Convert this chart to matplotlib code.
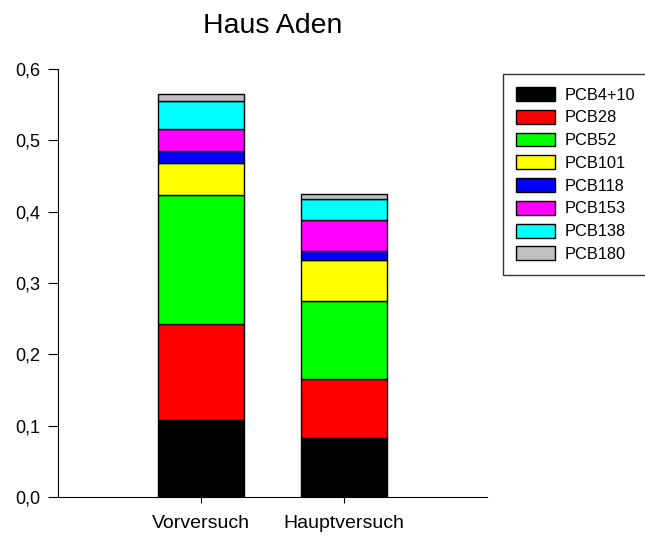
import matplotlib.pyplot as plt
from matplotlib.ticker import FuncFormatter
import numpy as np

plt.rcParams['font.family'] = ['Liberation Sans', 'DejaVu Sans']

# Versuche und PCB-Kongenere
versuche = ['Vorversuch', 'Hauptversuch']
kongenere = ['PCB4+10', 'PCB28', 'PCB52', 'PCB101', 'PCB118', 'PCB153', 'PCB138', 'PCB180']
farben = ['#000000', '#ff0000', '#00ff00', '#ffff00', '#0000ff', '#ff00ff', '#00ffff', '#c0c0c0']

# Werte je Kongener (Vorversuch, Hauptversuch)
pcb4_10 = [0.108, 0.083]
pcb28 = [0.1345, 0.083]
pcb52 = [0.181, 0.109]
pcb101 = [0.045, 0.057]
pcb118 = [0.017, 0.013]
pcb153 = [0.031, 0.044]
pcb138 = [0.039, 0.029]
pcb180 = [0.010, 0.007]

werte = [pcb4_10, pcb28, pcb52, pcb101, pcb118, pcb153, pcb138, pcb180]

fig = plt.figure(figsize=(6.45, 5.38), dpi=100)
ax = fig.add_axes([0.09, 0.0762, 0.665, 0.7955])

x = np.arange(len(versuche))
unten = np.zeros(len(versuche))
for name, farbe, w in zip(kongenere, farben, werte):
    ax.bar(x, w, width=0.6, bottom=unten, color=farbe, edgecolor='black',
           linewidth=1, label=name)
    unten += np.array(w)

ax.set_xlim(-1, 2)
ax.set_ylim(0, 0.6)
ax.set_xticks(x)
ax.set_xticklabels(versuche, fontsize=14)
ax.set_yticks(np.arange(0, 0.61, 0.1))
ax.yaxis.set_major_formatter(FuncFormatter(lambda v, p: f'{v:.1f}'.replace('.', ',')))
ax.tick_params(axis='y', labelsize=13, length=7, pad=6, direction='out')
ax.tick_params(axis='x', length=4, direction='out', pad=9)
ax.spines['top'].set_visible(False)
ax.spines['right'].set_visible(False)

fig.text(0.4225, 0.952, 'Haus Aden', ha='center', va='center', fontsize=20.5)

leg = fig.legend(loc='upper left', bbox_to_anchor=(503 / 645, 1 - 74 / 538),
                 fontsize=11.8, frameon=True, fancybox=False, borderpad=0.8,
                 handlelength=2.4, handleheight=0.92, labelspacing=0.44,
                 handletextpad=0.55, borderaxespad=0)
leg.get_frame().set_edgecolor('black')
leg.get_frame().set_linewidth(1)

fig.savefig('out.png', dpi=100)
